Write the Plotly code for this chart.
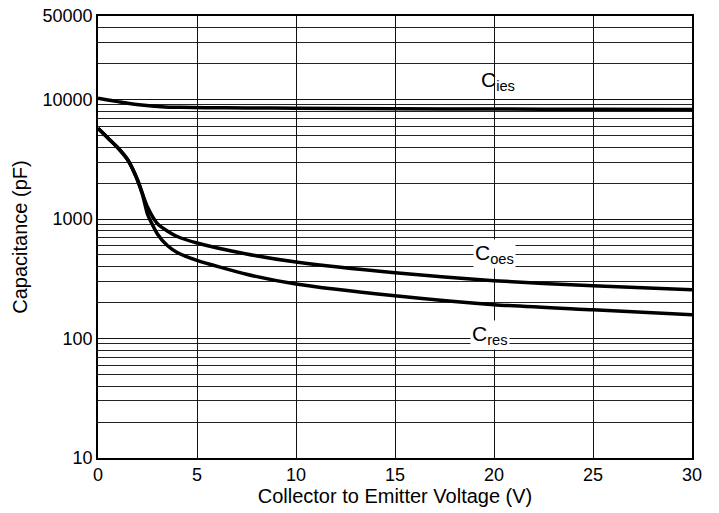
import math
import plotly.graph_objects as go

# Data
v_ies = [0, 0.5, 1.0, 1.5, 2.2, 3.2, 4.2, 5.4, 7.5, 10, 15, 20, 25, 30]
c_ies = [10230, 9900, 9600, 9300, 9000, 8720, 8600, 8550, 8500, 8450, 8380, 8320, 8280, 8240]

v_oes = [0, 0.5, 1.0, 1.5, 2.0, 2.25, 2.5, 3.0, 3.5, 4, 5, 7.5, 10, 15, 20, 25, 30]
c_oes = [5740, 4760, 3950, 3130, 2120, 1620, 1262, 916, 794, 714, 630, 510, 437, 355, 305, 276, 256]

v_res = [0, 0.5, 1.0, 1.5, 2.0, 2.25, 2.5, 3.0, 3.5, 4, 5, 7.5, 10, 15, 20, 25, 30]
c_res = [5740, 4760, 3950, 3130, 2100, 1600, 1100, 750, 600, 525, 450, 345, 286, 228, 192, 174, 158]

major_ticks = [10, 100, 1000, 10000, 50000]
minor_ticks = [20, 30, 40, 50, 60, 70, 80, 90,
               200, 300, 400, 500, 600, 700, 800, 900,
               2000, 3000, 4000, 5000, 6000, 7000, 8000, 9000,
               20000, 30000, 40000]
x_ticks = [0, 5, 10, 15, 20, 25, 30]

curve_labels = ["C<sub>ies</sub>", "C<sub>oes</sub>", "C<sub>res</sub>"]
label_x = [20.2, 20.0, 19.8]
label_y = [14300, 505, 107]

fig = go.Figure()
for xs, ys in [(v_ies, c_ies), (v_oes, c_oes), (v_res, c_res)]:
    fig.add_trace(go.Scatter(x=xs, y=ys, mode="lines",
                             line=dict(color="black", width=3.5, shape="spline", smoothing=0.6),
                             showlegend=False, hoverinfo="skip"))

font = "Liberation Sans, Arial, sans-serif"
fig.update_layout(
    width=719, height=513,
    margin=dict(l=98, r=27, t=16, b=55),
    paper_bgcolor="white", plot_bgcolor="white",
    font=dict(family=font, size=18, color="black"),
    xaxis=dict(range=[0, 30], tickvals=x_ticks, ticktext=[str(t) for t in x_ticks],
               showgrid=True, gridcolor="#111111", gridwidth=1,
               showline=True, linecolor="black", linewidth=1.5, mirror=True,
               ticks="", zeroline=False, automargin=False,
               title=dict(text="Collector to Emitter Voltage (V)", font=dict(size=20), standoff=4),
               tickfont=dict(size=18)),
    yaxis=dict(type="log", range=[1, 4.69897],
               tickvals=major_ticks, ticktext=[str(t) for t in major_ticks],
               showgrid=True, gridcolor="#111111", gridwidth=1,
               minor=dict(tickvals=minor_ticks, showgrid=True, gridcolor="#222222", gridwidth=1, ticks=""),
               showline=True, linecolor="black", linewidth=1.5, mirror=True,
               ticks="", zeroline=False, automargin=False,
               title=dict(text="Capacitance (pF)", font=dict(size=20), standoff=10),
               tickfont=dict(size=18)),
)

for i, text in enumerate(curve_labels):
    fig.add_annotation(x=label_x[i], y=math.log10(label_y[i]), text=text, showarrow=False,
                       font=dict(size=21, family=font, color="black"),
                       bgcolor="white" if i > 0 else "rgba(0,0,0,0)", borderpad=1)

fig.write_html("out.html")
